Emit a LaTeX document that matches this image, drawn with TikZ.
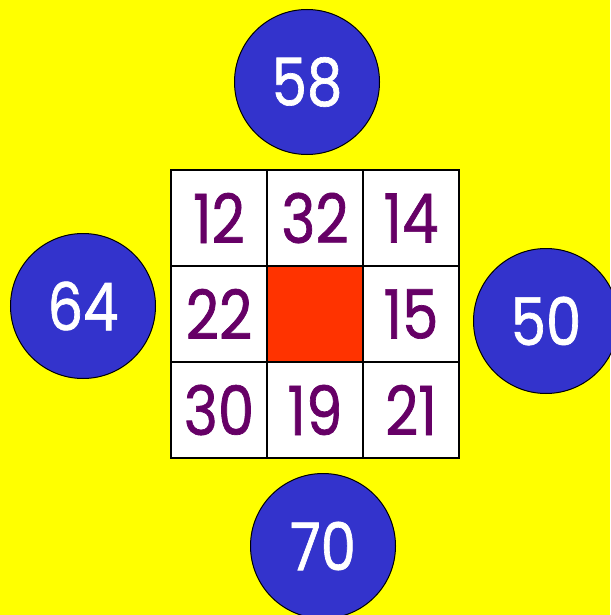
\documentclass[tikz,border=0pt]{standalone}
\usepackage{fontspec}
\setmainfont[FakeStretch=0.85,FakeBold=1]{Poppins}
\definecolor{bgyellow}{HTML}{FFFF00}
\definecolor{ballblue}{HTML}{3333CC}
\definecolor{numpurple}{HTML}{660066}
\definecolor{centerred}{HTML}{FF3300}
\begin{document}
\begin{tikzpicture}[x=1pt,y=-1pt,
  cellbox/.style={draw=black,line width=1.6pt,fill=white,minimum size=96pt,inner sep=0pt,outer sep=0pt,
    text=numpurple,font=\fontsize{68}{68}\selectfont},
  centerbox/.style={cellbox,fill=centerred},
  ball/.style={circle,draw=black,line width=1pt,fill=ballblue,minimum size=145pt,inner sep=0pt,
    text=white,font=\fontsize{66}{66}\selectfont}]
\fill[bgyellow] (0,0) rectangle (610,615);
\useasboundingbox (0,0) rectangle (610,615);
\node[cellbox] (c11) at (219,218) {12};
\node[cellbox] (c12) at (315,218) {32};
\node[cellbox] (c13) at (411,218) {14};
\node[cellbox] (c21) at (219,314) {22};
\node[centerbox] (c22) at (315,314) {};
\node[cellbox] (c23) at (411,314) {15};
\node[cellbox] (c31) at (219,410) {30};
\node[cellbox] (c32) at (315,410) {19};
\node[cellbox] (c33) at (411,410) {21};
\node[ball] (top) at (307,82) {58};
\node[ball] (left) at (83,306) {64};
\node[ball] (right) at (546,321) {50};
\node[ball] (bottom) at (323,546) {70};
\end{tikzpicture}
\end{document}
